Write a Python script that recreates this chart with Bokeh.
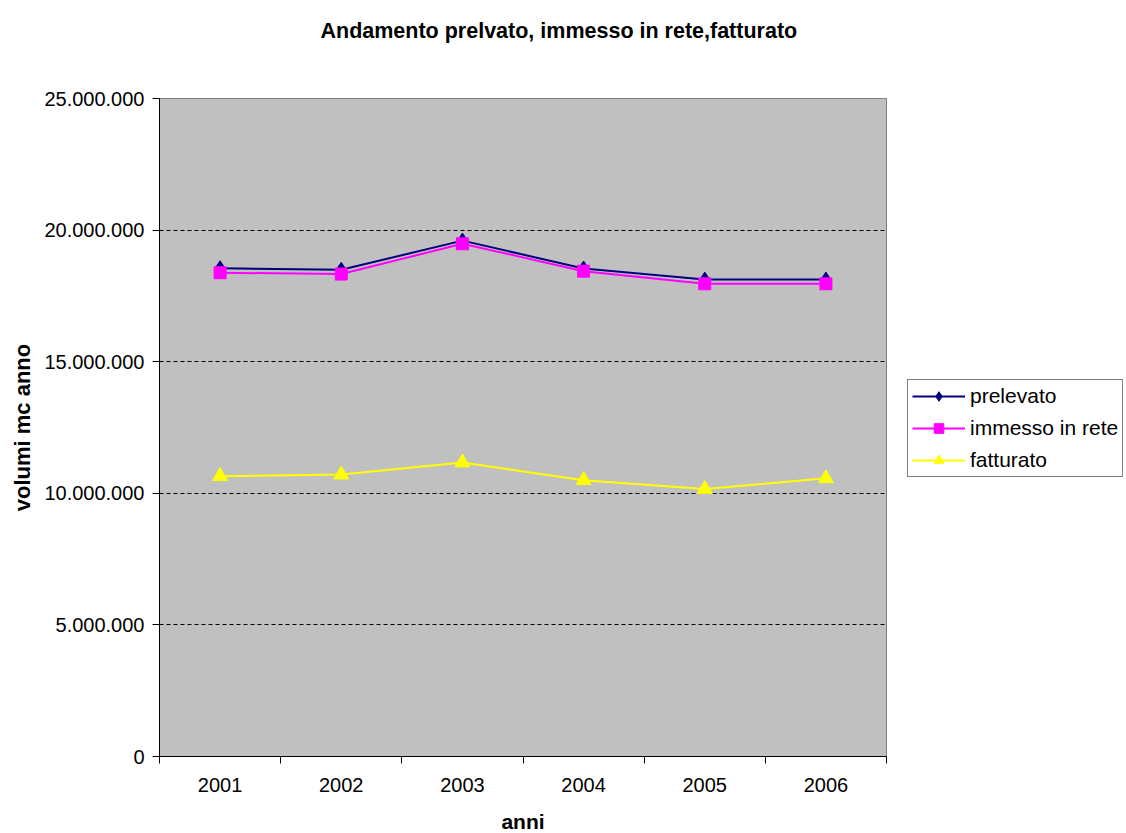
from bokeh.plotting import figure
from bokeh.models import ColumnDataSource, FixedTicker, Range1d, Legend, LegendItem, Title
from bokeh.embed import file_html
from bokeh.resources import INLINE

# Annual volumes (m3)
years = ["2001", "2002", "2003", "2004", "2005", "2006"]
prelevato = [18_550_000, 18_490_000, 19_600_000, 18_540_000, 18_120_000, 18_120_000]
immesso = [18_380_000, 18_330_000, 19_480_000, 18_440_000, 17_960_000, 17_960_000]
fatturato = [10_650_000, 10_710_000, 11_170_000, 10_500_000, 10_160_000, 10_570_000]

y_ticks = [0, 5_000_000, 10_000_000, 15_000_000, 20_000_000, 25_000_000]
y_tick_labels = ["0", "5.000.000", "10.000.000", "15.000.000", "20.000.000", "25.000.000"]

FONT = "Liberation Sans"

x = list(range(1, len(years) + 1))
src = ColumnDataSource(dict(x=x, prelevato=prelevato, immesso=immesso, fatturato=fatturato))

p = figure(
    frame_width=727, frame_height=658, output_backend="svg", toolbar_location=None,
    x_range=Range1d(0.5, len(years) + 0.5), y_range=Range1d(y_ticks[0], y_ticks[-1]),
    min_border_left=159, min_border_right=240, min_border_top=98, min_border_bottom=77,
    background_fill_color="#C0C0C0", border_fill_color="white",
)
p.outline_line_color = "#808080"
p.outline_line_width = 1

# Blank spacer panel between the frame and the title
p.add_layout(Title(text=" ", text_font_size="4px", standoff=44), "above")

# Chart title
p.title.text = "Andamento prelvato, immesso  in rete,fatturato"
p.title.align = "left"
p.title.offset = 161
p.title.vertical_align = "bottom"
p.title.standoff = 10
p.title.text_font = FONT
p.title.text_font_size = "21.5px"
p.title.text_font_style = "bold"
p.title.text_color = "black"

# X axis: year labels centred, tick marks between categories
xa = p.xaxis[0]
xa.ticker = FixedTicker(ticks=x, minor_ticks=[v - 0.5 for v in x] + [x[-1] + 0.5])
xa.major_label_overrides = {v: y for v, y in zip(x, years)}
xa.major_tick_in = 0
xa.major_tick_out = 0
xa.minor_tick_in = 0
xa.minor_tick_out = 7
xa.minor_tick_line_color = "black"
xa.axis_line_color = "black"
xa.major_label_standoff = 14
xa.major_label_text_font = FONT
xa.major_label_text_font_size = "20px"
xa.major_label_text_color = "black"
xa.axis_label = "anni"
xa.axis_label_text_font = FONT
xa.axis_label_text_font_size = "21px"
xa.axis_label_text_font_style = "bold"
xa.axis_label_text_color = "black"
xa.axis_label_standoff = 15

# Y axis
ya = p.yaxis[0]
ya.ticker = FixedTicker(ticks=y_ticks)
ya.major_label_overrides = {v: s for v, s in zip(y_ticks, y_tick_labels)}
ya.major_tick_in = 0
ya.major_tick_out = 7
ya.minor_tick_out = 0
ya.minor_tick_in = 0
ya.major_tick_line_color = "black"
ya.axis_line_color = "black"
ya.major_label_standoff = 8
ya.major_label_text_font = FONT
ya.major_label_text_font_size = "20px"
ya.major_label_text_color = "black"
ya.axis_label = "volumi mc anno"
ya.axis_label_text_font = FONT
ya.axis_label_text_font_size = "22px"
ya.axis_label_text_font_style = "bold"
ya.axis_label_text_color = "black"
ya.axis_label_standoff = 6

# Grid
p.xgrid.grid_line_color = None
p.ygrid.ticker = FixedTicker(ticks=y_ticks[1:-1])
p.ygrid.grid_line_color = "black"
p.ygrid.grid_line_dash = "4 3"
p.ygrid.grid_line_width = 1

# Series
l1 = p.line("x", "prelevato", source=src, line_color="#000080", line_width=2)
m1 = p.scatter("x", "prelevato", source=src, marker="diamond", size=15,
               fill_color="#000080", line_color="#000080")
l2 = p.line("x", "immesso", source=src, line_color="#FF00FF", line_width=2)
m2 = p.scatter("x", "immesso", source=src, marker="square", size=12,
               fill_color="#FF00FF", line_color="#FF00FF")
l3 = p.line("x", "fatturato", source=src, line_color="#FFFF00", line_width=2)
m3 = p.scatter("x", "fatturato", source=src, marker="triangle", size=15,
               fill_color="#FFFF00", line_color="#FFFF00")

legend = Legend(
    items=[
        LegendItem(label="prelevato", renderers=[l1, m1]),
        LegendItem(label="immesso in rete", renderers=[l2, m2]),
        LegendItem(label="fatturato", renderers=[l3, m3]),
    ],
    location=(21, 279),
    border_line_color="black", border_line_width=1,
    background_fill_color="white", background_fill_alpha=1,
    label_text_font=FONT, label_text_font_size="21px", label_text_color="black",
    glyph_width=53, glyph_height=24, label_height=24, spacing=8,
    padding=4, margin=0, label_standoff=5,
)
p.add_layout(legend, "right")

open("out.html", "w").write(file_html(p, INLINE))
